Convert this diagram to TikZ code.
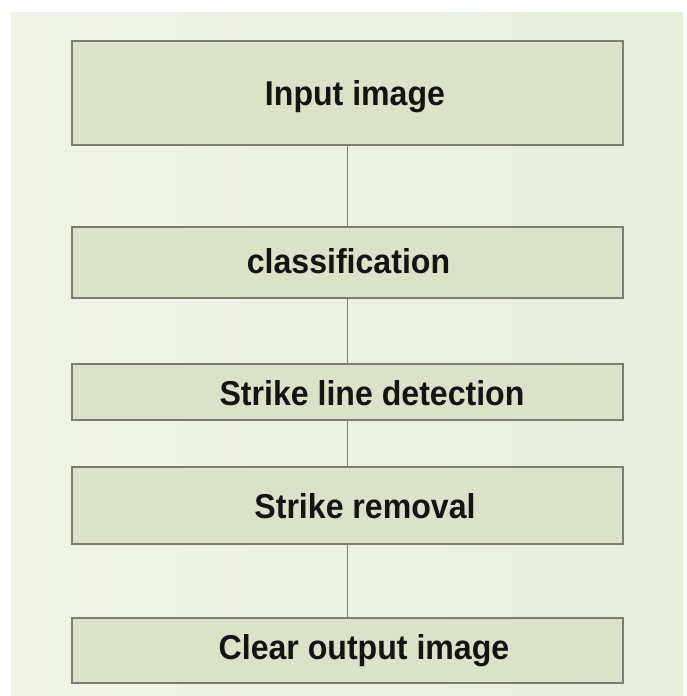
\documentclass[tikz,border=0pt]{standalone}
\usepackage{fontspec}
\setmainfont{Liberation Sans}
\newfontfamily\boxfont[FakeStretch=0.93]{Liberation Sans}
\definecolor{bgl}{HTML}{F1F3E9}
\definecolor{bgr}{HTML}{E7EEDB}
\definecolor{boxc}{HTML}{DCE2C7}
\definecolor{edgec}{HTML}{7B7D70}
\begin{document}
\begin{tikzpicture}[x=1pt,y=-1pt,
  stepbox/.style={draw=edgec,line width=1.8pt,fill=boxc},
  steptext/.style={anchor=base,inner sep=0pt,
    font=\boxfont\fontsize{34.5}{38}\selectfont\bfseries,text=black!92},
  conn/.style={draw=edgec,line width=1.3pt}]
\useasboundingbox (0,0) rectangle (686,696);
\fill[white] (0,0) rectangle (686,696);
\fill[left color=bgl,right color=bgr] (11,12) rectangle (683,696);
\path[stepbox] (72,41) rectangle (623,145) coordinate[pos=0.5] (c1);
\path[stepbox] (72,227) rectangle (623,298);
\path[stepbox] (72,364) rectangle (623,420);
\path[stepbox] (72,467) rectangle (623,544);
\path[stepbox] (72,618) rectangle (623,683);
\node[inner sep=0pt,minimum width=551pt,minimum height=104pt] (n1) at (347.5,93) {};
\node[inner sep=0pt,minimum width=551pt,minimum height=71pt] (n2) at (347.5,262.5) {};
\node[inner sep=0pt,minimum width=551pt,minimum height=56pt] (n3) at (347.5,392) {};
\node[inner sep=0pt,minimum width=551pt,minimum height=77pt] (n4) at (347.5,505.5) {};
\node[inner sep=0pt,minimum width=551pt,minimum height=65pt] (n5) at (347.5,650.5) {};
\node[steptext] (t1) at (355,105) {Input image};
\node[steptext] (t2) at (348.5,273) {classification};
\node[steptext] (t3) at (372,405) {Strike line detection};
\node[steptext] (t4) at (365,518) {Strike removal};
\node[steptext] (t5) at (364,659) {Clear output image};
\draw[conn] (n1.south) -- (n2.north);
\draw[conn] (n2.south) -- (n3.north);
\draw[conn] (n3.south) -- (n4.north);
\draw[conn] (n4.south) -- (n5.north);
\end{tikzpicture}
\end{document}
